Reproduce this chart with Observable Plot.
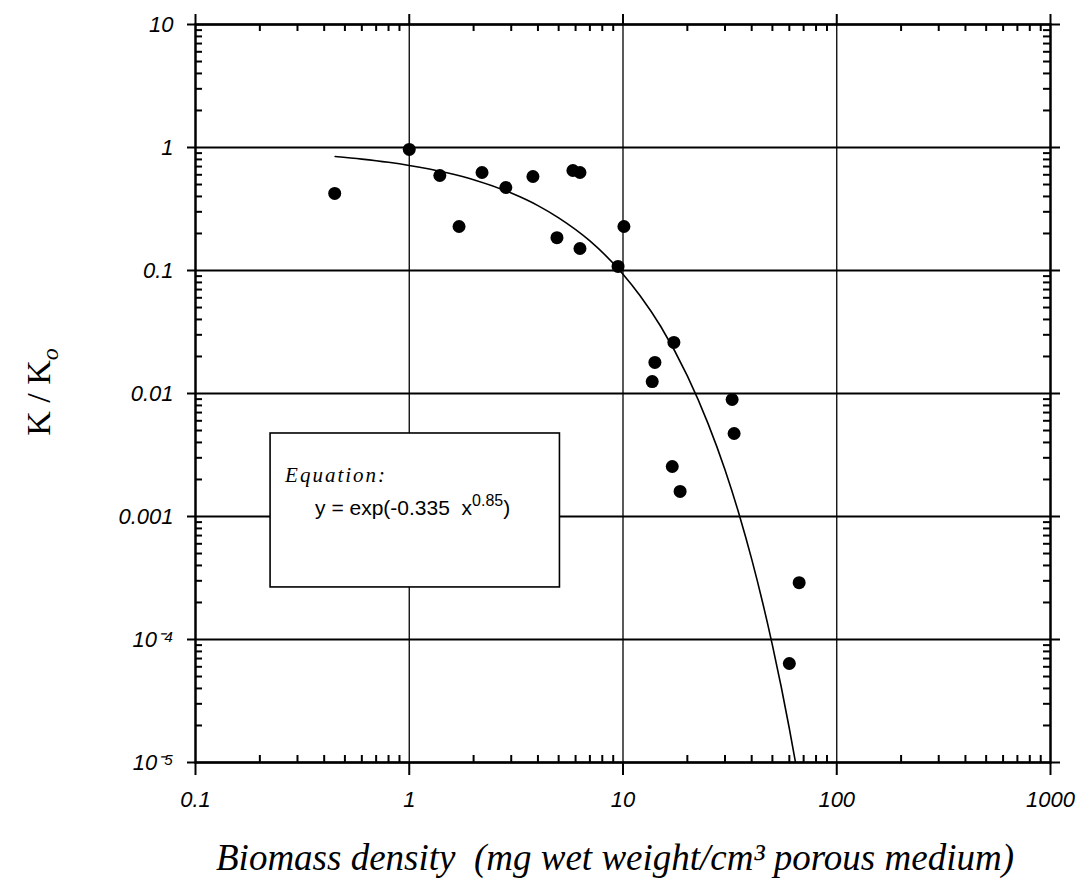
<!DOCTYPE html>
<html><head><meta charset="utf-8">
<script src="https://cdn.jsdelivr.net/npm/d3@7"></script>
<script src="https://cdn.jsdelivr.net/npm/@observablehq/plot@0.6"></script>
<style>
body{margin:0;background:#fff;}
#chart svg{display:block;}
</style></head><body><div id="chart"></div>
<script>
// Measured points (biomass density, K/Ko)
const biomass = [0.448, 1.0, 1.39, 1.71, 2.19, 2.83, 3.79, 5.83, 6.29, 4.91, 6.29, 10.1, 9.48, 17.3, 14.1, 13.7, 32.4, 33.1, 17.0, 18.5, 66.7, 60.0];
const ratio = [0.423, 0.964, 0.592, 0.228, 0.626, 0.473, 0.581, 0.650, 0.626, 0.185, 0.151, 0.228, 0.108, 0.026, 0.0179, 0.0125, 0.00894, 0.00473, 0.00255, 0.00160, 0.000290, 0.0000638];
// Fitted curve
const fitX = [0.45, 0.6, 0.8, 1, 1.5, 2, 3, 4, 5, 7, 10, 12, 15, 20, 25, 30, 35, 40, 45, 50, 55, 60, 64];
const fitY = [0.844, 0.805, 0.758, 0.715, 0.623, 0.547, 0.426, 0.337, 0.268, 0.174, 0.0934, 0.0627, 0.0352, 0.0139, 0.00569, 0.00240, 0.00103, 0.000450, 0.000200, 0.0000900, 0.0000411, 0.0000189, 0.0000102];
// Ticks
const xTicks = [0.1, 1, 10, 100, 1000];
const xTickLabels = ["0.1", "1", "10", "100", "1000"];
const yTicks = [10, 1, 0.1, 0.01, 0.001, 1e-4, 1e-5];
const yTickLabels = ["10", "1", "0.1", "0.01", "0.001", "10⁻⁴", "10⁻⁵"];
// Texts
const xLabel = "Biomass density  (mg wet weight/cm³ porous medium)";
const yLabelMain = "K / K";
const yLabelSub = "o";
const eqTitle = "Equation:";
const eqMain = "y = exp(-0.335  x";
const eqSup = "0.85";
const eqEnd = ")";
// Equation box extent (data units)
const eqBox = {x1: 0.2245, x2: 5.07, y1: 0.00473, y2: 0.000265};

const W = 1079, H = 885, mL = 195, mR = 29, mT = 24, mB = 123;
const innerW = W - mL - mR, innerH = H - mT - mB;

const minorX = [], minorY = [];
for (let e = -1; e < 3; e++) for (let k = 2; k <= 9; k++) minorX.push(k * 10 ** e);
for (let e = -5; e < 1; e++) for (let k = 2; k <= 9; k++) minorY.push(k * 10 ** e);

const points = biomass.map((b, i) => ({b, r: ratio[i]}));
const fit = fitX.map((x, i) => ({x, y: fitY[i]}));
const tickFont = {fontSize: 22, fontStyle: "italic", fontFamily: "Liberation Sans"};

const plot = Plot.plot({
  width: W, height: H,
  marginLeft: mL, marginRight: mR, marginTop: mT, marginBottom: mB,
  style: {background: "white", color: "black", overflow: "visible"},
  x: {type: "log", domain: [0.1, 1000], axis: null},
  y: {type: "log", domain: [1e-5, 10], axis: null},
  marks: [
    Plot.ruleX(xTicks, {stroke: "black", strokeWidth: 1.3}),
    Plot.ruleY(yTicks, {stroke: "black", strokeWidth: 2.2}),
    Plot.tickX(minorX, {x: d => d, insetTop: innerH - 7, stroke: "black", strokeWidth: 2}),
    Plot.tickX(minorX, {x: d => d, insetBottom: innerH - 7, stroke: "black", strokeWidth: 2}),
    Plot.tickY(minorY, {y: d => d, insetRight: innerW - 7, stroke: "black", strokeWidth: 2}),
    Plot.tickY(minorY, {y: d => d, insetLeft: innerW - 7, stroke: "black", strokeWidth: 2}),
    Plot.axisX(xTicks, {anchor: "bottom", tickSize: 13, tickPadding: 16, strokeWidth: 2, tickFormat: d => xTickLabels[xTicks.indexOf(d)], ...tickFont}),
    Plot.axisX(xTicks, {anchor: "top", tickSize: 11, strokeWidth: 2, tickFormat: () => ""}),
    Plot.axisY(yTicks, {anchor: "left", tickSize: 8, tickPadding: 14, strokeWidth: 2, tickFormat: d => yTickLabels[yTicks.indexOf(d)], ...tickFont}),
    Plot.axisY(yTicks, {anchor: "right", tickSize: 9, strokeWidth: 2, tickFormat: () => ""}),
    Plot.frame({stroke: "black", strokeWidth: 2.4}),
    Plot.rect([eqBox], {x1: "x1", x2: "x2", y1: "y1", y2: "y2", fill: "white", stroke: "black", strokeWidth: 1.6}),
    Plot.line(fit, {x: "x", y: "y", stroke: "black", strokeWidth: 1.6, curve: "monotone-x"}),
    Plot.dot(points, {x: "b", y: "r", r: 6.5, fill: "black", stroke: "none"})
  ]
});

const sx = plot.scale("x"), sy = plot.scale("y");
const svg = d3.select(plot);
const bx = sx.apply(eqBox.x1), by = sy.apply(eqBox.y1);
const g = svg.append("g").attr("transform", `translate(${bx},${by})`).attr("text-anchor", "start");
g.append("text").attr("x", 15).attr("y", 49)
  .attr("font-family", "Liberation Serif").attr("font-style", "italic").attr("font-size", 21)
  .attr("letter-spacing", 2).text(eqTitle);
const t = g.append("text").attr("x", 45).attr("y", 82)
  .attr("font-family", "Liberation Sans").attr("font-size", 21).style("white-space", "pre");
t.append("tspan").text(eqMain);
t.append("tspan").attr("dy", -9).attr("font-size", 16).text(eqSup);
t.append("tspan").attr("dy", 9).text(eqEnd);

// Axis titles
svg.append("text").attr("x", 615).attr("y", 870).attr("text-anchor", "middle")
  .attr("font-family", "Liberation Serif").attr("font-style", "italic").attr("font-size", 37)
  .style("white-space", "pre").text(xLabel);
const yl = svg.append("text").attr("transform", "translate(50,392) rotate(-90)").attr("text-anchor", "middle")
  .attr("font-family", "Liberation Serif").attr("font-size", 34).style("white-space", "pre");
yl.append("tspan").text(yLabelMain);
yl.append("tspan").attr("dy", 8).attr("font-size", 24).attr("font-style", "italic").text(yLabelSub);

document.getElementById("chart").appendChild(plot);
</script></body></html>
